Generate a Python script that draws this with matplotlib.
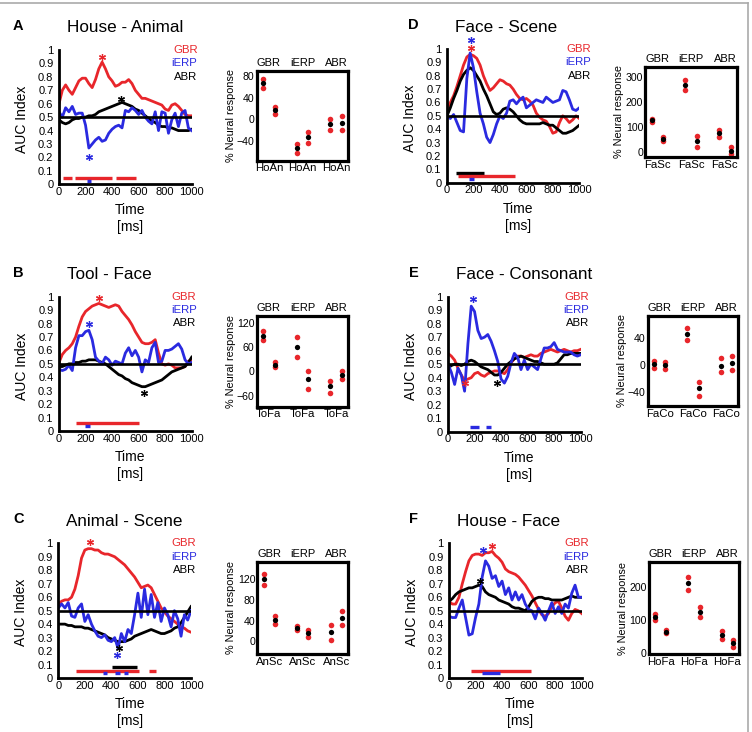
import matplotlib
matplotlib.use("Agg")
import matplotlib.pyplot as plt
from matplotlib.lines import Line2D

plt.rcParams['font.family'] = ['Liberation Sans', 'DejaVu Sans']

W, H = 752, 732
RED = '#e8262b'
BLUE = '#2a2ae0'
BLACK = '#000000'
COL = {'gbr': RED, 'ierp': BLUE, 'abr': BLACK}

time_ms = list(range(0, 1001, 25))
measures = ['GBR', 'iERP', 'ABR']

# ---- A  House - Animal
gbr_A = [0.60, 0.70, 0.74, 0.70, 0.67, 0.72, 0.77, 0.79, 0.79, 0.75,
         0.72, 0.78, 0.86, 0.91, 0.86, 0.80, 0.77, 0.73, 0.74, 0.76,
         0.76, 0.78, 0.75, 0.70, 0.67, 0.64, 0.64, 0.63, 0.62, 0.61,
         0.60, 0.59, 0.56, 0.55, 0.59, 0.60, 0.58, 0.55, 0.52, 0.51, 0.51]
ierp_A = [0.54, 0.50, 0.57, 0.54, 0.58, 0.52, 0.53, 0.53, 0.44, 0.27,
          0.30, 0.33, 0.35, 0.32, 0.33, 0.38, 0.41, 0.43, 0.44, 0.42,
          0.55, 0.54, 0.57, 0.55, 0.52, 0.55, 0.50, 0.47, 0.45, 0.54,
          0.40, 0.54, 0.53, 0.38, 0.48, 0.53, 0.43, 0.53, 0.55, 0.42, 0.40]
abr_A = [0.48, 0.46, 0.45, 0.46, 0.48, 0.49, 0.49, 0.50, 0.50, 0.51,
         0.51, 0.52, 0.54, 0.55, 0.56, 0.57, 0.58, 0.59, 0.60, 0.61,
         0.60, 0.59, 0.58, 0.56, 0.55, 0.53, 0.51, 0.49, 0.47, 0.46,
         0.44, 0.43, 0.43, 0.42, 0.42, 0.41, 0.40, 0.40, 0.40, 0.40, 0.41]
stars_A = [('gbr', 322, 0.95), ('abr', 467, 0.635), ('ierp', 226, 0.20)]
bars_A = [('gbr', 33, 101, 0.05), ('gbr', 118, 403, 0.05), ('gbr', 433, 577, 0.05),
          ('ierp', 214, 244, 0.025)]
hi_A = [75, 23, -46, -24, 0, 6]
mean_A = [67, 17, -53, -33, -9, -6]
lo_A = [58, 10, -62, -43, -19, -19]

# ---- B  Tool - Face
gbr_B = [0.51, 0.57, 0.60, 0.62, 0.65, 0.70, 0.78, 0.85, 0.89, 0.91,
         0.93, 0.94, 0.95, 0.94, 0.93, 0.92, 0.93, 0.94, 0.93, 0.89,
         0.86, 0.83, 0.79, 0.74, 0.70, 0.66, 0.65, 0.65, 0.66, 0.68,
         0.58, 0.50, 0.49, 0.50, 0.49, 0.47, 0.47, 0.47, 0.48, 0.52, 0.53]
ierp_B = [0.46, 0.45, 0.46, 0.49, 0.45, 0.62, 0.71, 0.71, 0.74, 0.75,
          0.68, 0.55, 0.52, 0.50, 0.55, 0.53, 0.49, 0.52, 0.51, 0.50,
          0.58, 0.62, 0.56, 0.60, 0.55, 0.44, 0.53, 0.51, 0.62, 0.66,
          0.51, 0.52, 0.60, 0.60, 0.61, 0.63, 0.65, 0.61, 0.53, 0.50, 0.51]
abr_B = [0.48, 0.48, 0.49, 0.50, 0.50, 0.51, 0.51, 0.52, 0.52, 0.53,
         0.53, 0.53, 0.52, 0.51, 0.50, 0.48, 0.46, 0.44, 0.42, 0.41,
         0.39, 0.38, 0.36, 0.35, 0.34, 0.33, 0.33, 0.34, 0.35, 0.36,
         0.37, 0.38, 0.40, 0.42, 0.44, 0.45, 0.46, 0.47, 0.48, 0.51, 0.55]
stars_B = [('gbr', 304, 0.99), ('ierp', 229, 0.80), ('abr', 643, 0.28)]
bars_B = [('gbr', 126, 605, 0.062), ('ierp', 196, 232, 0.04)]
hi_B = [99, 22, 85, 0, -23, 0]
mean_B = [87, 16, 61, -20, -36, -9]
lo_B = [77, 10, 36, -44, -53, -20]

# ---- C  Animal - Scene
gbr_C = [0.55, 0.57, 0.58, 0.58, 0.60, 0.66, 0.76, 0.89, 0.95, 0.96,
         0.96, 0.95, 0.95, 0.93, 0.92, 0.92, 0.91, 0.90, 0.88, 0.86,
         0.84, 0.81, 0.78, 0.75, 0.71, 0.67, 0.68, 0.69, 0.67, 0.62,
         0.57, 0.52, 0.49, 0.46, 0.44, 0.42, 0.40, 0.38, 0.37, 0.35, 0.34]
ierp_C = [0.52, 0.55, 0.52, 0.56, 0.46, 0.45, 0.52, 0.55, 0.42, 0.47,
          0.40, 0.35, 0.31, 0.30, 0.32, 0.28, 0.27, 0.30, 0.22, 0.33,
          0.27, 0.36, 0.33, 0.47, 0.63, 0.45, 0.66, 0.47, 0.62, 0.45,
          0.56, 0.42, 0.52, 0.47, 0.38, 0.50, 0.44, 0.31, 0.47, 0.43, 0.50]
abr_C = [0.40, 0.40, 0.40, 0.39, 0.39, 0.38, 0.38, 0.38, 0.37, 0.37,
         0.36, 0.35, 0.34, 0.33, 0.32, 0.30, 0.29, 0.28, 0.27, 0.27,
         0.27, 0.28, 0.29, 0.31, 0.32, 0.33, 0.34, 0.35, 0.36, 0.35,
         0.34, 0.33, 0.33, 0.34, 0.35, 0.37, 0.38, 0.41, 0.45, 0.49, 0.53]
stars_C = [('gbr', 238, 1.01), ('ierp', 442, 0.17), ('abr', 460, 0.225)]
bars_C = [('gbr', 131, 605, 0.052), ('gbr', 683, 733, 0.052), ('abr', 408, 592, 0.08),
          ('ierp', 335, 370, 0.035), ('ierp', 430, 466, 0.035), ('ierp', 496, 529, 0.035)]
hi_C = [130, 48, 30, 21, 31, 58]
mean_C = [120, 41, 26, 15, 17, 45]
lo_C = [109, 34, 21, 8, 3, 31]

# ---- D  Face - Scene
gbr_D = [0.55, 0.60, 0.65, 0.72, 0.80, 0.88, 0.94, 0.96, 0.95, 0.93,
         0.88, 0.80, 0.74, 0.69, 0.71, 0.74, 0.77, 0.76, 0.74, 0.73,
         0.70, 0.66, 0.63, 0.62, 0.63, 0.61, 0.58, 0.52, 0.49, 0.47,
         0.46, 0.42, 0.37, 0.38, 0.45, 0.50, 0.48, 0.45, 0.47, 0.50, 0.48]
ierp_D = [0.50, 0.48, 0.51, 0.45, 0.39, 0.38, 0.78, 0.97, 0.86, 0.68,
          0.52, 0.44, 0.34, 0.30, 0.36, 0.44, 0.50, 0.48, 0.52, 0.61,
          0.62, 0.59, 0.62, 0.64, 0.56, 0.58, 0.60, 0.62, 0.61, 0.60,
          0.64, 0.62, 0.60, 0.61, 0.62, 0.69, 0.68, 0.62, 0.55, 0.54, 0.56]
abr_D = [0.50, 0.56, 0.63, 0.69, 0.76, 0.81, 0.84, 0.86, 0.84, 0.80,
         0.76, 0.70, 0.65, 0.59, 0.53, 0.51, 0.52, 0.55, 0.56, 0.55,
         0.53, 0.50, 0.47, 0.45, 0.44, 0.44, 0.44, 0.44, 0.44, 0.45,
         0.44, 0.43, 0.43, 0.41, 0.39, 0.37, 0.37, 0.38, 0.39, 0.41, 0.43]
stars_D = [('ierp', 178, 1.07), ('gbr', 178, 1.01)]
bars_D = [('abr', 68, 282, 0.07), ('gbr', 80, 516, 0.052), ('ierp', 164, 201, 0.03)]
hi_D = [133, 58, 289, 63, 87, 17]
mean_D = [126, 51, 269, 43, 74, 4]
lo_D = [118, 44, 249, 20, 61, -9]

# ---- E  Face - Consonant
gbr_E = [0.58, 0.56, 0.53, 0.47, 0.42, 0.38, 0.39, 0.40, 0.43, 0.44,
         0.42, 0.41, 0.43, 0.44, 0.45, 0.45, 0.44, 0.43, 0.46, 0.51,
         0.54, 0.56, 0.56, 0.55, 0.56, 0.57, 0.56, 0.56, 0.58, 0.59,
         0.60, 0.61, 0.60, 0.59, 0.60, 0.61, 0.60, 0.59, 0.60, 0.60, 0.61]
ierp_E = [0.50, 0.44, 0.35, 0.47, 0.42, 0.30, 0.65, 0.93, 0.89, 0.75,
          0.69, 0.70, 0.72, 0.67, 0.60, 0.52, 0.39, 0.36, 0.41, 0.51,
          0.58, 0.55, 0.46, 0.53, 0.46, 0.50, 0.48, 0.46, 0.54, 0.62,
          0.62, 0.63, 0.66, 0.61, 0.60, 0.59, 0.59, 0.59, 0.57, 0.56, 0.57]
abr_E = [0.47, 0.49, 0.50, 0.50, 0.49, 0.50, 0.52, 0.53, 0.52, 0.50,
         0.48, 0.47, 0.46, 0.44, 0.42, 0.42, 0.44, 0.47, 0.50, 0.52,
         0.54, 0.55, 0.56, 0.55, 0.54, 0.53, 0.52, 0.52, 0.51, 0.50,
         0.50, 0.50, 0.50, 0.51, 0.54, 0.57, 0.57, 0.58, 0.58, 0.58, 0.58]
stars_E = [('ierp', 186, 0.98), ('abr', 369, 0.36), ('gbr', 130, 0.36)]
bars_E = [('ierp', 166, 236, 0.037), ('ierp', 286, 324, 0.037)]
hi_E = [6, 5, 55, -26, 10, 14]
mean_E = [2, 0, 46, -35, -1, 3]
lo_E = [-4, -6, 37, -46, -11, -8]

# ---- F  House - Face
gbr_F = [0.57, 0.55, 0.55, 0.60, 0.70, 0.79, 0.87, 0.91, 0.92, 0.92,
         0.91, 0.93, 0.93, 0.94, 0.91, 0.89, 0.86, 0.81, 0.79, 0.78,
         0.77, 0.75, 0.72, 0.69, 0.65, 0.61, 0.56, 0.51, 0.47, 0.46,
         0.48, 0.53, 0.56, 0.57, 0.52, 0.46, 0.43, 0.48, 0.51, 0.50, 0.48]
ierp_F = [0.46, 0.45, 0.45, 0.52, 0.58, 0.45, 0.32, 0.33, 0.45, 0.55,
          0.75, 0.87, 0.83, 0.74, 0.76, 0.68, 0.72, 0.62, 0.67, 0.58,
          0.64, 0.58, 0.62, 0.55, 0.51, 0.50, 0.44, 0.52, 0.48, 0.43,
          0.50, 0.56, 0.48, 0.53, 0.48, 0.55, 0.52, 0.63, 0.69, 0.60, 0.60]
abr_F = [0.57, 0.59, 0.62, 0.64, 0.65, 0.66, 0.67, 0.67, 0.68, 0.69,
         0.68, 0.64, 0.62, 0.61, 0.60, 0.58, 0.57, 0.56, 0.55, 0.53,
         0.52, 0.52, 0.51, 0.50, 0.53, 0.57, 0.59, 0.60, 0.60, 0.59,
         0.59, 0.58, 0.58, 0.58, 0.58, 0.59, 0.60, 0.61, 0.60, 0.60, 0.60]
stars_F = [('ierp', 256, 0.95), ('gbr', 327, 0.98), ('abr', 231, 0.72)]
bars_F = [('gbr', 166, 618, 0.054), ('ierp', 249, 387, 0.037), ('abr', 238, 244, 0.074)]
hi_F = [116, 69, 230, 137, 67, 39]
mean_F = [109, 64, 210, 123, 54, 29]
lo_F = [100, 59, 190, 109, 41, 18]

panels = [
    ('A', 'House - Animal', 'HoAn', gbr_A, ierp_A, abr_A, stars_A, bars_A, hi_A, mean_A, lo_A),
    ('B', 'Tool - Face', 'ToFa', gbr_B, ierp_B, abr_B, stars_B, bars_B, hi_B, mean_B, lo_B),
    ('C', 'Animal - Scene', 'AnSc', gbr_C, ierp_C, abr_C, stars_C, bars_C, hi_C, mean_C, lo_C),
    ('D', 'Face - Scene', 'FaSc', gbr_D, ierp_D, abr_D, stars_D, bars_D, hi_D, mean_D, lo_D),
    ('E', 'Face - Consonant', 'FaCo', gbr_E, ierp_E, abr_E, stars_E, bars_E, hi_E, mean_E, lo_E),
    ('F', 'House - Face', 'HoFa', gbr_F, ierp_F, abr_F, stars_F, bars_F, hi_F, mean_F, lo_F),
]

# layout in pixels: line axes box, dot axes box, dot ylim, dot yticks, legend right x
layout = {
    'A': dict(line=(59, 50, 191.7, 184.3), dot=(256.7, 70.7, 348.3, 160.7),
              ylim=(-76.5, 90.5), yt=[-40, 0, 40, 80], leg=197.5, letter=13),
    'B': dict(line=(59, 296.7, 191.7, 431), dot=(256.7, 316, 348.3, 406.7),
              ylim=(-87, 136), yt=[-60, 0, 60, 120], leg=196.5, letter=13),
    'C': dict(line=(58.3, 543.3, 191, 678), dot=(257.3, 562, 348.3, 654),
              ylim=(-25, 154), yt=[0, 40, 80, 120], leg=196.5, letter=13),
    'D': dict(line=(447, 49, 579.3, 182.7), dot=(645.3, 66.7, 737, 157.3),
              ylim=(-23, 343), yt=[0, 100, 200, 300], leg=591, letter=408),
    'E': dict(line=(448, 296.7, 580.7, 431.7), dot=(647.7, 316, 738.3, 406),
              ylim=(-61.5, 73.5), yt=[-40, 0, 40], leg=589.3, letter=409),
    'F': dict(line=(449, 543.3, 581.7, 678.3), dot=(648.7, 562.3, 739.3, 654),
              ylim=(-4, 274), yt=[0, 100, 200], leg=589, letter=409),
}


def rect(x0, y0, x1, y1):
    return [x0 / W, 1 - y1 / H, (x1 - x0) / W, (y1 - y0) / H]


def ftext(x, y, s, **kw):
    fig.text(x / W, 1 - y / H, s, **kw)


fig = plt.figure(figsize=(W / 100, H / 100), dpi=100)

for (letter, title, abbr, gbr, ierp, abr, stars, bars, hi, mean, lo) in panels:
    lay = layout[letter]
    x0, y0, x1, y1 = lay['line']

    ax = fig.add_axes(rect(*lay['line']))
    ax.plot(time_ms, gbr, color=RED, lw=2.0)
    ax.plot(time_ms, abr, color=BLACK, lw=2.0)
    ax.plot(time_ms, ierp, color=BLUE, lw=2.0)
    ax.axhline(0.5, color=BLACK, lw=1.9)
    for key, t0, t1, yb in bars:
        ax.plot([t0, t1], [yb, yb], color=COL[key], lw=2.4, solid_capstyle='butt')
    for key, t, y in stars:
        ax.plot(t, y, marker=(6, 2, 0), ms=5, mew=0.9, color=COL[key], clip_on=False)
    ax.set_xlim(0, 1000)
    ax.set_ylim(0, 1)
    ax.set_xticks([0, 200, 400, 600, 800, 1000])
    yt = [i / 10 for i in range(11)]
    ax.set_yticks(yt)
    ax.set_yticklabels(['0'] + ['%.1f' % v for v in yt[1:-1]] + ['1'])
    for s in ['top', 'right']:
        ax.spines[s].set_visible(False)
    for s in ['left', 'bottom']:
        ax.spines[s].set_linewidth(2.0)
    ax.tick_params(axis='x', length=0, labelsize=8, pad=2)
    ax.tick_params(axis='y', length=0, labelsize=8, pad=4)

    ftext(x0 - 37, (y0 + y1) / 2 + 2, 'AUC Index', rotation=90, ha='center', va='center', fontsize=10)
    ftext((x0 + x1) / 2 + 5, y1 + 26, 'Time', ha='center', va='center', fontsize=10)
    ftext((x0 + x1) / 2 + 5, y1 + 43, '[ms]', ha='center', va='center', fontsize=10)
    ftext(x0 + 8, y0 - 22, title, ha='left', va='center', fontsize=12.3)
    ftext(lay['letter'], y0 - 24, letter, ha='left', va='center', fontsize=10.5, fontweight='bold')
    for i, (name, c) in enumerate(zip(measures, [RED, BLUE, BLACK])):
        ftext(lay['leg'], y0 + i * 13.3, name, ha='right', va='center', fontsize=8.2, color=c)

    # dot plot of neural responses
    d0, e0, d1, e1 = lay['dot']
    dx = fig.add_axes(rect(*lay['dot']))
    xs = [0.83, 1.17, 1.83, 2.17, 2.83, 3.17]
    dx.plot(xs, hi, 'o', color=RED, ms=4, mec='none')
    dx.plot(xs, lo, 'o', color=RED, ms=4, mec='none')
    dx.plot(xs, mean, 'o', color=BLACK, ms=3.8, mec='none')
    dx.set_xlim(0.64, 3.36)
    dx.set_ylim(*lay['ylim'])
    dx.set_xticks([1, 2, 3])
    dx.set_xticklabels([abbr] * 3)
    dx.set_yticks(lay['yt'])
    for s in dx.spines.values():
        s.set_linewidth(2.3)
    dx.tick_params(axis='x', length=0, labelsize=8.2, pad=2)
    dx.tick_params(axis='y', length=0, labelsize=7.6, pad=1.5)
    for i, name in enumerate(measures):
        dx.text(i + 1, 1 + 8 / (e1 - e0), name, transform=dx.get_xaxis_transform(),
                ha='center', va='center', fontsize=8)
    ftext(d0 - 26, (e0 + e1) / 2, '% Neural response', rotation=90, ha='center', va='center', fontsize=7.8)

# thin frame lines at the top and right of the figure
fig.add_artist(Line2D([0, 747.5 / W], [1 - 2.7 / H, 1 - 2.7 / H], color='#aaaaaa', lw=1.2))
fig.add_artist(Line2D([747.5 / W, 747.5 / W], [0, 1 - 2.7 / H], color='#aaaaaa', lw=1.2))

fig.savefig('out.png', dpi=100)
